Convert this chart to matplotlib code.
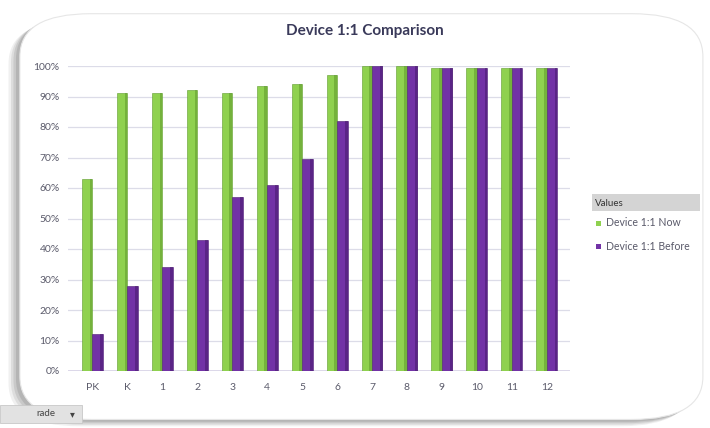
import matplotlib
matplotlib.use('Agg')
import matplotlib.pyplot as plt
import matplotlib.patches as mpatches
from matplotlib.ticker import PercentFormatter

plt.rcParams['font.family'] = ['Lato', 'DejaVu Sans']

categories = ['PK', 'K', '1', '2', '3', '4', '5', '6', '7', '8', '9', '10', '11', '12']
now_vals = [0.63, 0.91, 0.91, 0.92, 0.91, 0.935, 0.94, 0.97, 1.0, 1.0, 0.995, 0.995, 0.995, 0.995]
before_vals = [0.12, 0.28, 0.34, 0.43, 0.57, 0.61, 0.695, 0.82, 1.0, 1.0, 0.995, 0.995, 0.995, 0.995]
series_names = ['Device 1:1 Now', 'Device 1:1 Before']

GREEN = '#8fd14f'
GREEN_D = '#5e9a2c'
PURPLE = '#7232a6'
PURPLE_D = '#4b1b72'
TXT = '#5a5a6a'

fig = plt.figure(figsize=(7.1, 4.28), dpi=100)
fig.patch.set_facecolor('white')

# card with soft shadow
for k, a in enumerate([0.10, 0.14, 0.18, 0.22]):
    off = (4 - k) * 0.0035
    sh = mpatches.FancyBboxPatch((0.026 - off, 0.018 - off), 0.962, 0.948,
                                 boxstyle='round,pad=0,rounding_size=0.10',
                                 transform=fig.transFigure, facecolor='#707070',
                                 edgecolor='none', alpha=a, zorder=0)
    fig.patches.append(sh)
card = mpatches.FancyBboxPatch((0.028, 0.02), 0.962, 0.948,
                               boxstyle='round,pad=0,rounding_size=0.10',
                               transform=fig.transFigure, facecolor='white',
                               edgecolor='#e6e6e6', linewidth=0.8, zorder=0.1)
fig.patches.append(card)

ax = fig.add_axes([68 / 710, 1 - 371 / 428, 502 / 710, 305 / 428])
ax.set_zorder(2)
ax.set_facecolor('none')
x = list(range(len(categories)))
w = 0.3
xg = [i - w / 2 for i in x]
xp = [i + w / 2 for i in x]
ax.bar(xg, now_vals, width=w, color=GREEN, edgecolor=GREEN_D, linewidth=0.4, zorder=3)
ax.bar(xp, before_vals, width=w, color=PURPLE, edgecolor=PURPLE_D, linewidth=0.4, zorder=3)
# depth strips for a 3D look
ax.bar([v + w * 0.38 for v in xg], now_vals, width=w * 0.25, color=GREEN_D, alpha=0.55, zorder=4)
ax.bar([v + w * 0.38 for v in xp], before_vals, width=w * 0.25, color=PURPLE_D, alpha=0.6, zorder=4)

ax.set_xlim(-0.69, 13.66)
ax.set_ylim(0, 1.0)
ax.set_yticks([i / 10 for i in range(11)])
ax.yaxis.set_major_formatter(PercentFormatter(1.0, decimals=0))
ax.set_xticks(x)
ax.set_xticklabels(categories)
ax.tick_params(axis='both', length=0, labelsize=7.5, colors=TXT)
ax.tick_params(axis='x', pad=9)
ax.tick_params(axis='y', pad=6)
ax.grid(axis='y', color='#dcdce8', linewidth=0.9, zorder=0)
for s in ax.spines.values():
    s.set_visible(False)
ax.axhline(0, color='#d6d2e6', linewidth=1.2, zorder=2)

fig.text(365 / 710, 1 - 31 / 428, 'Device 1:1 Comparison', ha='center', va='center',
         fontsize=11, fontweight='bold', color='#3a3a5a')

# legend
hdr = mpatches.Rectangle((592 / 710, 1 - 211 / 428), 108 / 710, 17 / 428,
                         transform=fig.transFigure, facecolor='#d4d4d4', edgecolor='none', zorder=1)
fig.patches.append(hdr)
fig.text(595 / 710, 1 - 203 / 428, 'Values', fontsize=7, color='#333333', va='center')
for i, (name, col) in enumerate(zip(series_names, [GREEN, PURPLE])):
    yy = 1 - (223 + i * 23) / 428
    fig.patches.append(mpatches.Rectangle((596 / 710, yy - 2.5 / 428), 5 / 710, 5 / 428,
                                          transform=fig.transFigure, facecolor=col,
                                          edgecolor='none', zorder=1))
    fig.text(606 / 710, yy, name, fontsize=7.6, color=TXT, va='center')

# field button bottom-left
btn = mpatches.Rectangle((0, 1 - 423 / 428), 82 / 710, 18 / 428,
                         transform=fig.transFigure, facecolor='#e2e2e2', edgecolor='#c8c8c8',
                         linewidth=0.6, zorder=1)
fig.patches.append(btn)
fig.text(36 / 710, 1 - 414 / 428, 'rade', fontsize=7, color='#444444', va='center')
fig.text(70 / 710, 1 - 414 / 428, '▾', fontsize=7, color='#444444', va='center',
         family=['DejaVu Sans'])

fig.savefig('out.png', dpi=100, facecolor='white')
